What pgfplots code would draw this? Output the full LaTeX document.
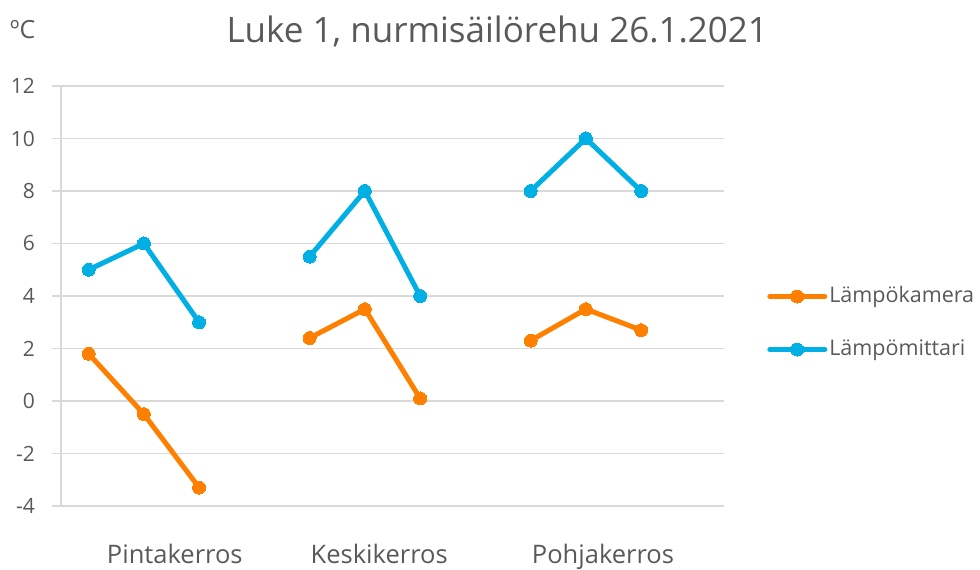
\documentclass[border=0pt]{standalone}
\usepackage{fontspec}
\setmainfont{Open Sans}
\usepackage{pgfplots}
\pgfplotsset{compat=1.18}
\definecolor{txtgray}{HTML}{595959}
\definecolor{gridgray}{HTML}{D9D9D9}
\definecolor{lorange}{RGB}{255,128,0}
\definecolor{lblue}{RGB}{0,176,228}
\begin{document}
\begin{tikzpicture}
\begin{axis}[
  scale only axis, width=663pt, height=420pt,
  xmin=-0.5, xmax=11.5, ymin=-4, ymax=12,
  ytick={-4,-2,...,12},
  xtick={1.56,5.26,9.31},
  xticklabels={Pintakerros,Keskikerros,Pohjakerros},
  axis x line=bottom, axis y line=left,
  axis line style={-, draw=gridgray, line width=1.4pt},
  ymajorgrids, grid style={draw=gridgray, line width=1.4pt},
  x tick style={draw=none},
  y tick style={draw=gridgray, line width=1.4pt},
  tick align=outside, major tick length=9pt,
  /pgf/number format/assume math mode=true,
  ticklabel style={font=\fontsize{21}{25}\selectfont, text=txtgray},
  yticklabel style={anchor=east, inner sep=0pt, xshift=-17pt},
  xticklabel style={font=\fontsize{25.5}{30}\selectfont, anchor=base, inner sep=0pt, yshift=-48pt},
  unbounded coords=jump,
  clip=false,
  legend style={draw=none, fill=none, at={(1.065,0.4357)}, anchor=west, inner sep=0pt,
    font=\fontsize{21.5}{25}\selectfont, text=txtgray, row sep=30pt,
    nodes={inner sep=2pt, text height=15pt, text depth=4pt}},
  legend cell align=left,
  legend image code/.code={\draw[mark repeat=2,mark phase=2,#1] plot coordinates {(0pt,0pt) (27.5pt,0pt) (55pt,0pt)};},
]
\addplot[lorange, line width=5pt, line join=round, line cap=round, mark=*, mark size=6.5pt, mark options={solid, line width=0pt}] coordinates {
 (0,1.8) (1,-0.5) (2,-3.3) (3,nan) (4,2.4) (5,3.5) (6,0.1) (7,nan) (8,2.3) (9,3.5) (10,2.7)};
\addlegendentry{Lämpökamera}
\addplot[lblue, line width=5pt, line join=round, line cap=round, mark=*, mark size=6.5pt, mark options={solid, line width=0pt}] coordinates {
 (0,5) (1,6) (2,3) (3,nan) (4,5.5) (5,8) (6,4) (7,nan) (8,8) (9,10) (10,8)};
\addlegendentry{Lämpömittari}
\node[anchor=base, font=\fontsize{35}{42}\selectfont, text=txtgray, inner sep=0pt] at (rel axis cs:0.658,1.1024) {Luke 1, nurmisäilörehu 26.1.2021};
\node[anchor=base west, font=\fontsize{25}{30}\selectfont, text=txtgray, inner sep=0pt] at (rel axis cs:-0.0769,1.114) {ºC};
\end{axis}
\path[use as bounding box] (-61pt,-63pt) rectangle (919pt,506pt);
\end{tikzpicture}
\end{document}
